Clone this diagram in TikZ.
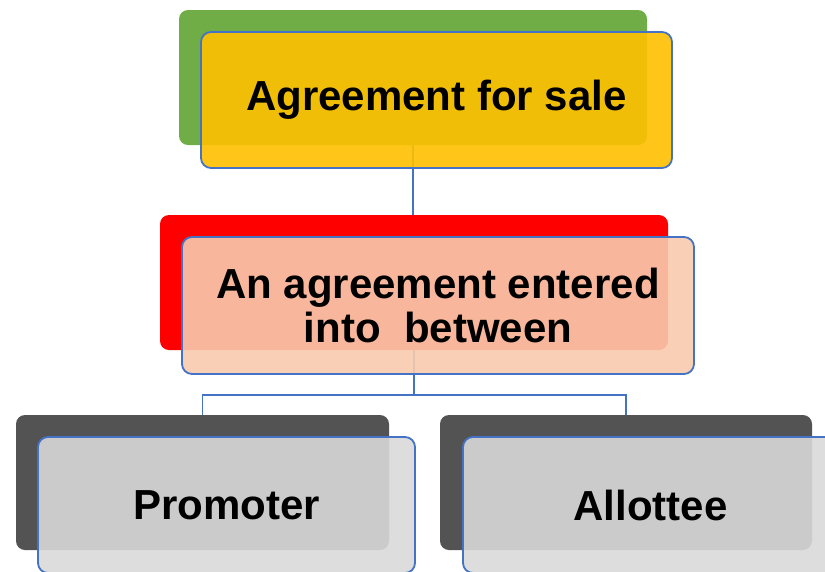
\documentclass[tikz,border=0pt]{standalone}
\usepackage{fontspec}
\setmainfont{Liberation Sans}
\definecolor{backgreen}{HTML}{70AD47}
\definecolor{frontyellow}{HTML}{FFC000}
\definecolor{backred}{HTML}{FF0000}
\definecolor{frontsalmon}{HTML}{F8CBAD}
\definecolor{backdark}{HTML}{535353}
\definecolor{frontgray}{HTML}{D9D9D9}
\definecolor{edgeblue}{HTML}{4472C4}
\begin{document}
\begin{tikzpicture}[x=1pt,y=-1pt,
  backbox/.style={rectangle, rounded corners=9pt, inner sep=0pt, draw=none},
  frontbox/.style={rectangle, rounded corners=10pt, inner sep=0pt, draw=edgeblue, line width=1.8pt, fill opacity=0.9, text opacity=1, align=center, font=\fontsize{42}{44}\selectfont\bfseries},
  link/.style={draw=edgeblue, line width=1.6pt}]
\useasboundingbox (0,0) rectangle (825,571);
\clip (0,0) rectangle (825,571);
% back rectangles
\node[backbox, fill=backgreen, minimum width=468pt, minimum height=135pt] (topback) at (413,77.5) {};
\node[backbox, fill=backred, minimum width=508pt, minimum height=135pt] (midback) at (414,282.5) {};
\node[backbox, fill=backdark, minimum width=373pt, minimum height=135pt] (leftback) at (202.5,482.5) {};
\node[backbox, fill=backdark, minimum width=372pt, minimum height=135pt] (rightback) at (626,482.5) {};
% connectors
\draw[link] (topback.south) -- (topback.south |- midback.north);
\coordinate (split) at (414,395);
\draw[link] (midback.south) -- (split);
\draw[link] (split) -| (leftback.north);
\draw[link] (split) -| (rightback.north);
% front boxes
\node[frontbox, fill=frontyellow, minimum width=471pt, minimum height=136pt] (topfront) at (436.5,100) {Agreement for sale};
\node[frontbox, fill=frontsalmon, minimum width=512pt, minimum height=137pt] (midfront) at (438,305.5) {An agreement entered\\into~ between};
\node[frontbox, fill=frontgray, minimum width=377pt, minimum height=136pt] (leftfront) at (226.5,505) {Promoter};
\node[frontbox, fill=frontgray, minimum width=375pt, minimum height=136pt] (rightfront) at (650.5,505) {Allottee};
\end{tikzpicture}
\end{document}
